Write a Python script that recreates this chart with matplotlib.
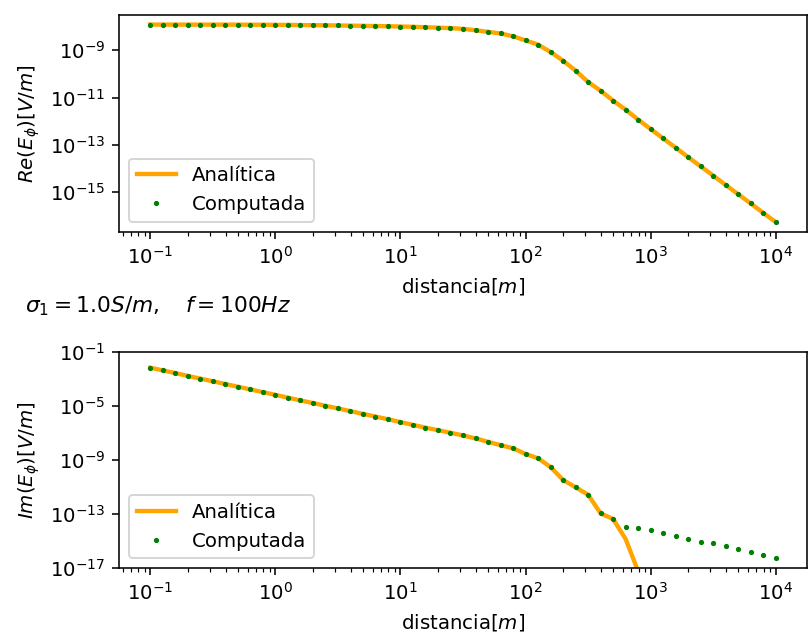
import numpy as np
import matplotlib
matplotlib.use('Agg')
import matplotlib.pyplot as plt

# distances: 51 points, 10 per decade, 0.1 m .. 10 km
distancia = np.logspace(-1, 4, 51)

# Re(E_phi) [V/m] (analytic and computed coincide)
re_analitica = [
    1.230e-8, 1.230e-8, 1.230e-8, 1.227e-8, 1.227e-8, 1.225e-8, 1.222e-8, 1.219e-8,
    1.213e-8, 1.208e-8, 1.199e-8, 1.189e-8, 1.175e-8, 1.161e-8, 1.146e-8, 1.127e-8,
    1.109e-8, 1.089e-8, 1.067e-8, 1.045e-8, 1.019e-8, 9.91e-9, 9.51e-9, 9.12e-9,
    8.71e-9, 8.13e-9, 7.08e-9, 6.03e-9, 5.19e-9, 3.92e-9, 2.63e-9, 1.74e-9,
    8.51e-10, 3.63e-10, 1.38e-10, 4.57e-11, 1.95e-11, 7.41e-12, 3.09e-12, 1.17e-12,
    4.68e-13, 1.86e-13, 7.59e-14, 3.02e-14, 1.23e-14, 5.01e-15, 2.00e-15, 8.13e-16,
    3.31e-16, 1.32e-16, 5.37e-17,
]
re_computada = list(re_analitica)

# Im(E_phi) [V/m], lower panel
im_comun = [
    7.24e-3, 4.57e-3, 2.88e-3, 1.78e-3, 1.12e-3, 7.08e-4, 4.47e-4, 2.82e-4,
    1.78e-4, 1.12e-4, 7.08e-5, 4.37e-5, 2.75e-5, 1.74e-5, 1.10e-5, 6.92e-6,
    4.37e-6, 2.75e-6, 1.74e-6, 1.10e-6, 6.76e-7, 4.17e-7, 2.63e-7, 1.70e-7,
    1.10e-7, 6.92e-8, 4.17e-8, 2.34e-8, 1.32e-8, 7.76e-9, 2.95e-9, 1.41e-9,
    3.16e-10, 3.47e-11, 1.00e-11, 2.82e-12, 1.17e-13, 4.47e-14,
]
# analytic curve drops below the plotted range after ~800 m
im_analitica = im_comun + [1.48e-15, 6.0e-18] + [np.nan] * 11
im_computada = im_comun + [
    1.20e-14, 9.55e-15, 6.31e-15, 3.89e-15, 2.45e-15, 1.41e-15, 8.51e-16, 7.08e-16,
    4.27e-16, 2.57e-16, 1.55e-16, 1.02e-16, 6.17e-17,
]

dpi = 142
fig = plt.figure(figsize=(808 / dpi, 639 / dpi), dpi=dpi)
ax1 = fig.add_axes([119 / 808, 1 - 232 / 639, 688 / 808, 217.3 / 639])
ax2 = fig.add_axes([119 / 808, 1 - 568.3 / 639, 688 / 808, 216 / 639])

ax1.loglog(distancia, re_analitica, color='orange', lw=2.2, label='Analítica')
ax1.loglog(distancia, re_computada, 'g.', ms=3.3, label='Computada')
ax1.set_xlabel('distancia[$m$]')
ax1.set_ylabel(r'$Re(E_{\phi})[V/m]$')
ax1.legend(loc='lower left')

ax2.loglog(distancia, im_analitica, color='orange', lw=2.2, label='Analítica')
ax2.loglog(distancia, im_computada, 'g.', ms=3.3, label='Computada')
ax2.set_ylim(1e-17, 1e-1)
ax2.set_xlabel('distancia[$m$]')
ax2.set_ylabel(r'$Im(E_{\phi})[V/m]$')
ax2.legend(loc='lower left')

fig.text(25 / 808, 1 - 306 / 639, r'$\sigma_1 = 1.0 S/m, \quad f = 100 Hz$',
         fontsize=11, va='center', ha='left')

fig.savefig('out.png', dpi=dpi)
